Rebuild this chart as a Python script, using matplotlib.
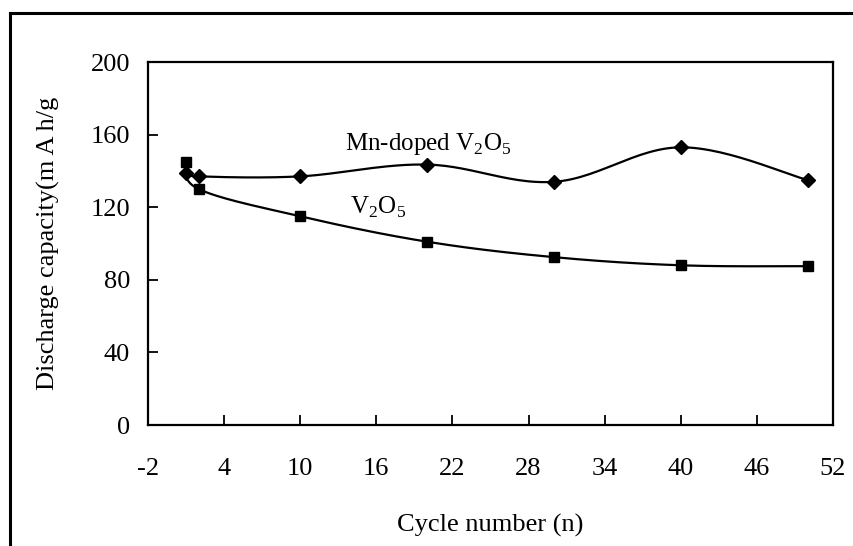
import numpy as np
import matplotlib
matplotlib.use("Agg")
import matplotlib.pyplot as plt
from matplotlib.lines import Line2D

plt.rcParams['font.family'] = ['Liberation Serif', 'DejaVu Serif']
plt.rcParams['mathtext.fontset'] = 'custom'
plt.rcParams['mathtext.rm'] = 'Liberation Serif'
plt.rcParams['axes.unicode_minus'] = False

# data
cycles = [1, 2, 10, 20, 30, 40, 50]
mn_doped = [139, 137, 137, 143.5, 134, 153, 135]
v2o5 = [145, 130, 115, 101, 92.5, 88, 87.5]

x_ticks = [-2, 4, 10, 16, 22, 28, 34, 40, 46, 52]
y_ticks = [0, 40, 80, 120, 160, 200]


def smooth(xs, ys, n=30, k=0.35):
    """Bezier curve through the points (Excel-like smoothed line)."""
    p = np.column_stack([xs, ys]).astype(float)
    q = np.vstack([p[0], p, p[-1]])
    out = []
    t = np.linspace(0, 1, n)[:, None]
    for i in range(1, len(q) - 2):
        p0, p1, p2, p3 = q[i - 1], q[i], q[i + 1], q[i + 2]
        c1 = p1 + (p2 - p0) * k / 2
        c2 = p2 - (p3 - p1) * k / 2
        seg = ((1 - t) ** 3 * p1 + 3 * (1 - t) ** 2 * t * c1
               + 3 * (1 - t) * t ** 2 * c2 + t ** 3 * p2)
        out.append(seg)
    out = np.vstack(out)
    return out[:, 0], out[:, 1]


fig = plt.figure(figsize=(8.54, 5.46), dpi=100)
ax = fig.add_axes([0.1733, 0.2216, 0.8021, 0.6648])

for ys, mk, ms in [(mn_doped, 'D', 7), (v2o5, 's', 7.5)]:
    sx, sy = smooth(cycles, ys)
    ax.plot(sx, sy, color='black', lw=1.6, zorder=2)
    ax.plot(cycles, ys, linestyle='none', marker=mk, ms=ms,
            color='black', zorder=3)

ax.set_xlim(-2, 52)
ax.set_ylim(0, 200)
ax.set_xticks(x_ticks)
ax.set_yticks(y_ticks)
ax.tick_params(direction='in', length=7, width=1.3, labelsize=19,
               pad=13)
ax.tick_params(axis='x', pad=24)
for s in ax.spines.values():
    s.set_linewidth(1.6)

ax.set_xlabel('Cycle number (n)', fontsize=19, labelpad=24)
ax.set_ylabel('Discharge capacity(m A h/g', fontsize=19, labelpad=22)

ax.text(13.5, 155, r'Mn-doped V$_2$O$_5$', fontsize=18, va='center')
ax.text(13.9, 120, r'V$_2$O$_5$', fontsize=18, va='center')

# outer frame (only top and left visible in the picture)
fig.add_artist(Line2D([10 / 854, 10 / 854], [0, 1 - 13 / 546],
                      transform=fig.transFigure, color='black', lw=2.2))
fig.add_artist(Line2D([10 / 854, 1], [1 - 13 / 546, 1 - 13 / 546],
                      transform=fig.transFigure, color='black', lw=2.2))

fig.savefig('out.png', dpi=100)
